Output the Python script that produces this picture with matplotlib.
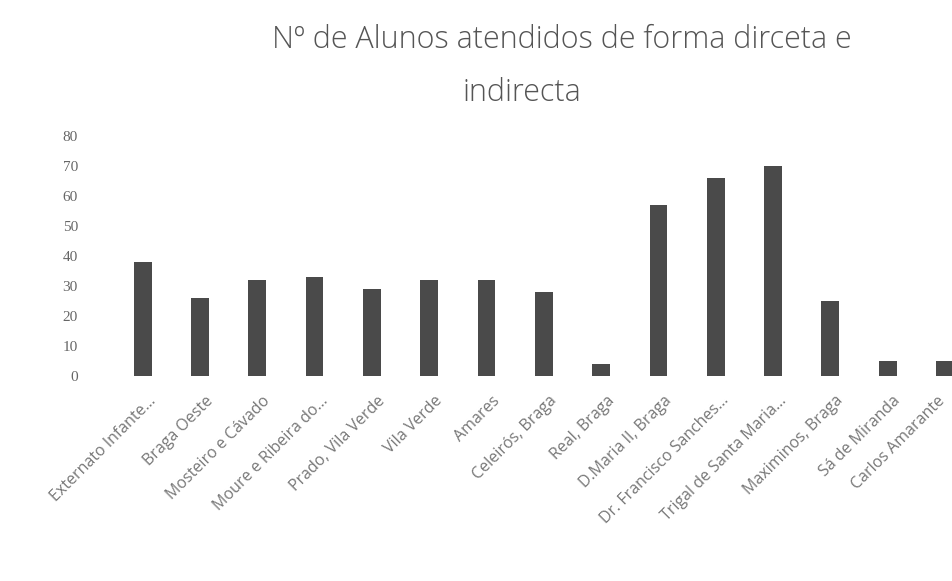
import numpy as np
import matplotlib
matplotlib.use("Agg")
from matplotlib import pyplot as plt
from matplotlib.transforms import ScaledTranslation

escolas = ["Externato Infante...", "Braga Oeste", "Mosteiro e Cávado",
           "Moure e Ribeira do...", "Prado, Vila Verde", "Vila Verde",
           "Amares", "Celeirós, Braga", "Real, Braga", "D.Maria II, Braga",
           "Dr. Francisco Sanches...", "Trigal de Santa Maria...",
           "Maximinos, Braga", "Sá de Miranda", "Carlos Amarante"]
alunos = [38, 26, 32, 33, 29, 32, 32, 28, 4, 57, 66, 70, 25, 5, 5]
yticks = [0, 10, 20, 30, 40, 50, 60, 70, 80]

W, H = 953, 581
fig = plt.figure(figsize=(W / 100, H / 100), dpi=100)
# plot area in pixels: first slot starts at x=114, baseline at y=376, top (80) at y=136
ax = fig.add_axes([114 / W, (H - 376) / H, 839 / W, 240 / H])

x = np.arange(len(escolas))
ax.bar(x, alunos, width=0.31, color="#4a4a4a")

ax.set_xlim(-0.5, 14.14)
ax.set_ylim(0, 80)
ax.set_yticks(yticks)
ax.set_yticklabels([str(v) for v in yticks], family="Liberation Serif",
                   fontsize=11, color="#666666")
ax.set_xticks(x)
ax.set_xticklabels(escolas, rotation=45, ha="right", rotation_mode="anchor",
                   family="Open Sans", fontsize=11.5, color="#777777")
ax.tick_params(axis="both", length=0)
ax.tick_params(axis="y", pad=26)
ax.tick_params(axis="x", pad=12)
# labels end a little to the right of the bar centre; the last one is
# pulled back so it stays inside the picture
labels = ax.get_xticklabels()
for i, lbl in enumerate(labels):
    dx = 5 if i < len(labels) - 1 else -8
    lbl.set_transform(lbl.get_transform() +
                      ScaledTranslation(dx / 100, 0, fig.dpi_scale_trans))
for s in ax.spines.values():
    s.set_visible(False)

fig.text(562 / W, 1 - 40 / H, "Nº de Alunos atendidos de forma dirceta e",
         ha="center", va="center", family="Open Sans", fontweight="light",
         fontsize=22, color="#555555")
fig.text(522 / W, 1 - 93 / H, "indirecta", ha="center", va="center",
         family="Open Sans", fontweight="light", fontsize=22, color="#555555")

fig.savefig("out.png", dpi=100)
